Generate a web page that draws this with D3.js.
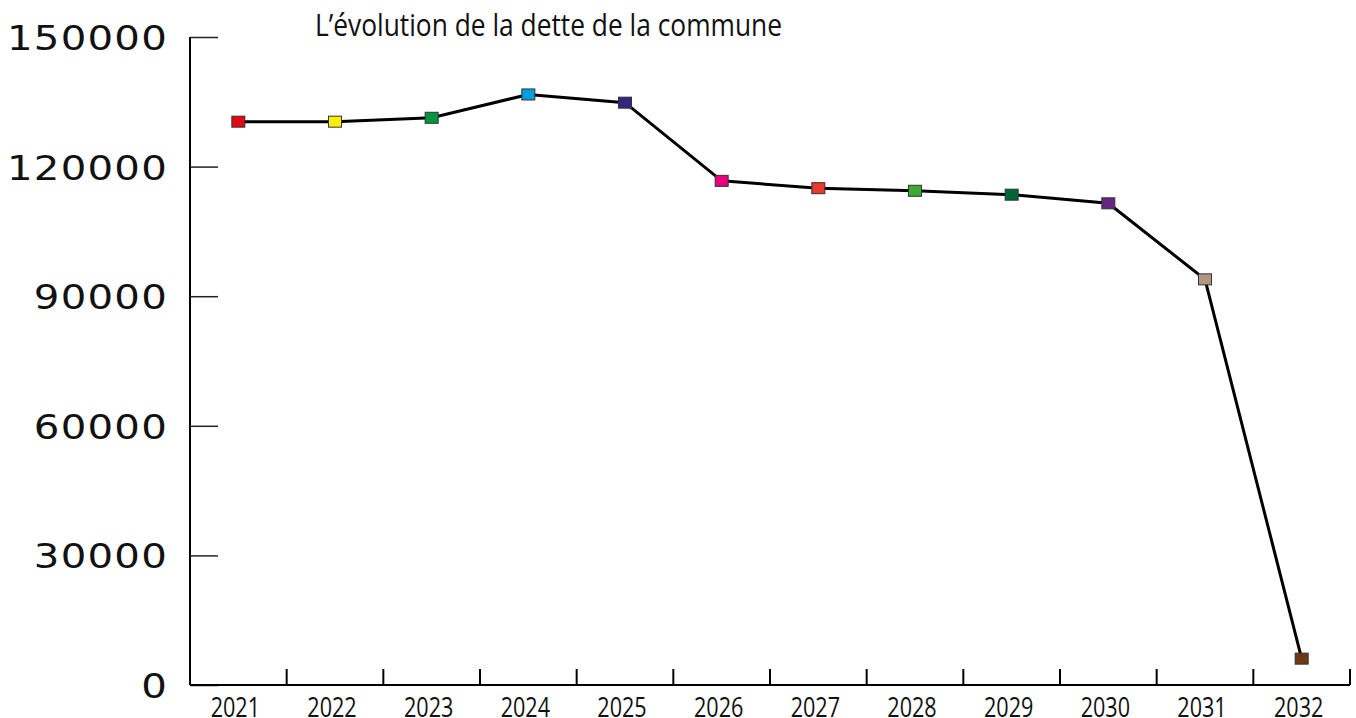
<!DOCTYPE html>
<html><head><meta charset="utf-8">
<script src="https://cdn.jsdelivr.net/npm/d3@7"></script>
<style>body{margin:0;background:#fff}</style>
</head><body><svg id="c" width="1356" height="718"></svg>
<script>
const years = ["2021","2022","2023","2024","2025","2026","2027","2028","2029","2030","2031","2032"];
const debt = [130400,130400,131300,136700,134800,116700,115000,114400,113500,111500,93900,6100];
const markerColors = ["#e30613","#ffed00","#009640","#009fe3","#312783","#e6007e","#e8392a","#3aaa35","#006633","#662483","#b39580","#6b3a14"];
const yTicks = [0,30000,60000,90000,120000,150000];
const title = "L\u2019évolution de la dette de la commune";

const svg = d3.select("#c");
const x = d3.scaleBand().domain(years).range([190,1350]);
const y = d3.scaleLinear().domain([0,150000]).range([685,37]);

function squeeze(sel, factor){
  sel.each(function(){
    const L = this.getComputedTextLength();
    d3.select(this).attr("textLength", L*factor).attr("lengthAdjust","spacingAndGlyphs");
  });
}

// Y axis
const ya = svg.append("g").attr("transform","translate(190,0)")
  .call(d3.axisRight(y).tickValues(yTicks).tickSize(28).tickFormat(""));
ya.select(".domain").attr("stroke","#000").attr("stroke-width",2).attr("d","M0,37V685");
ya.selectAll(".tick line").attr("stroke","#222").attr("stroke-width",1.5);
const yl = svg.append("g").selectAll("text").data(yTicks).join("text")
  .attr("x",168).attr("y",d=>y(d)+13).attr("text-anchor","end")
  .attr("font-family","DejaVu Sans").attr("font-size",33).attr("letter-spacing",1)
  .attr("fill","#111").text(d=>d);
squeeze(yl, 1.22);

// X axis
const xa = svg.append("g").attr("transform","translate(0,685)");
xa.append("line").attr("x1",190).attr("x2",1350).attr("stroke","#000").attr("stroke-width",2);
xa.selectAll("line.t").data(years).join("line").attr("class","t")
  .attr("x1",d=>x(d)+x.bandwidth()).attr("x2",d=>x(d)+x.bandwidth())
  .attr("y1",0).attr("y2",-16).attr("stroke","#000").attr("stroke-width",2);
const xl = xa.selectAll("text").data(years).join("text")
  .attr("x",d=>x(d)+x.bandwidth()/2-3).attr("y",32).attr("text-anchor","middle")
  .attr("font-family","Open Sans").attr("font-size",27).attr("fill","#111").text(d=>d);
squeeze(xl, 0.8);

// line
const pts = years.map((d,i)=>({year:d,v:debt[i],c:markerColors[i]}));
svg.append("path").datum(pts)
  .attr("d",d3.line().x(d=>x(d.year)+x.bandwidth()/2).y(d=>y(d.v)))
  .attr("fill","none").attr("stroke","#000").attr("stroke-width",3);
svg.selectAll("rect.m").data(pts).join("rect").attr("class","m")
  .attr("x",d=>x(d.year)+x.bandwidth()/2-6.5).attr("y",d=>y(d.v)-5.5)
  .attr("width",13).attr("height",11).attr("fill",d=>d.c)
  .attr("stroke","#333").attr("stroke-width",1);

svg.append("text").attr("x",315).attr("y",36).attr("font-family","Open Sans")
  .attr("font-size",31).attr("fill","#111").attr("textLength",467)
  .attr("lengthAdjust","spacingAndGlyphs").text(title);
</script></body></html>
